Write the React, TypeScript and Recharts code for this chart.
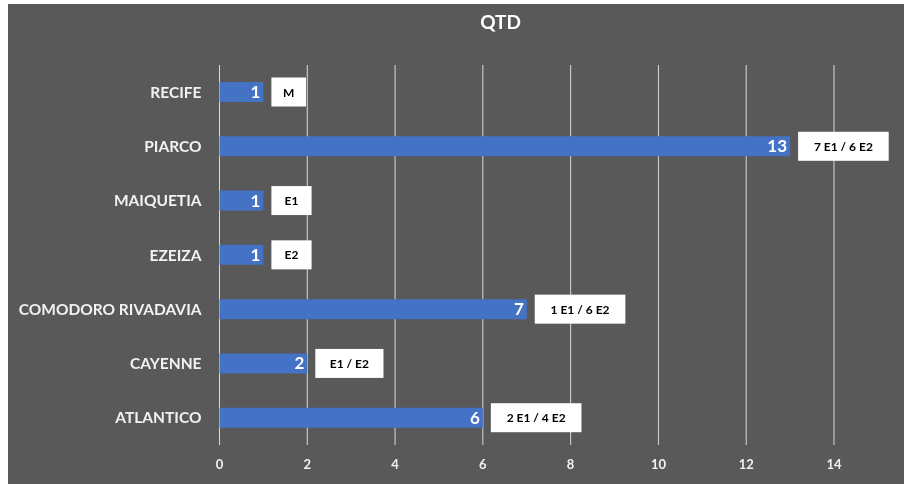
import { Bar, BarChart, CartesianGrid, LabelList, XAxis, YAxis } from "recharts";

const categories = [
  "RECIFE",
  "PIARCO",
  "MAIQUETIA",
  "EZEIZA",
  "COMODORO RIVADAVIA",
  "CAYENNE",
  "ATLANTICO",
];
const qtd = [1, 13, 1, 1, 7, 2, 6];
const notes = ["M", "7 E1 / 6 E2", "E1", "E2", "1 E1 / 6 E2", "E1 / E2", "2 E1 / 4 E2"];
const xTicks = [0, 2, 4, 6, 8, 10, 12, 14];

const data = categories.map((name, i) => ({ name, qtd: qtd[i], note: notes[i] }));

const FONT = "Lato, 'Open Sans', sans-serif";
const BG = "#595959";

function NoteBox(props: any) {
  const { x, y, width, height, value } = props;
  const text = String(value ?? "");
  const w = 29 + text.length * 5.6;
  const h = 29;
  const bx = Number(x) + Number(width) + 8;
  const cy = Number(y) + Number(height) / 2;
  return (
    <g>
      <rect x={bx} y={cy - h / 2} width={w} height={h} fill="#ffffff" />
      <text
        x={bx + w / 2}
        y={cy}
        textAnchor="middle"
        dominantBaseline="central"
        fill="#000000"
        fontSize={12}
        fontWeight={700}
        fontFamily={FONT}
      >
        {text}
      </text>
    </g>
  );
}

export default function App() {
  return (
    <div style={{ width: 896, height: 480, top: 4, left: 8, background: BG, position: "fixed" }}>
      <div
        style={{
          position: "absolute",
          left: 0,
          top: 6,
          width: 985,
          textAlign: "center",
          color: "#ffffff",
          fontFamily: FONT,
          fontWeight: 700,
          fontSize: 19,
        }}
      >
        QTD
      </div>
      <BarChart
        width={896}
        height={480}
        data={data}
        layout="vertical"
        margin={{ top: 61, right: 70, left: 0, bottom: 9 }}
        barCategoryGap={0}
      >
        <CartesianGrid horizontal={false} stroke="#d9d9d9" strokeWidth={1} />
        <XAxis
          type="number"
          domain={[0, 14]}
          ticks={xTicks}
          axisLine={false}
          tickLine={false}
          tickMargin={9}
          height={30}
          tick={{ fill: "#f2f2f2", fontSize: 13, fontWeight: 700, fontFamily: FONT }}
        />
        <YAxis
          type="category"
          dataKey="name"
          width={211.5}
          axisLine={false}
          tickLine={false}
          tickMargin={12}
          tick={{ fill: "#f2f2f2", fontSize: 15.5, fontWeight: 700, fontFamily: FONT }}
        />
        <Bar dataKey="qtd" fill="#4472c4" barSize={20} isAnimationActive={false}>
          <LabelList
            dataKey="qtd"
            position="insideRight"
            offset={3}
            fill="#ffffff"
            fontSize={17}
            fontWeight={700}
            fontFamily={FONT}
          />
          <LabelList dataKey="note" content={NoteBox} />
        </Bar>
      </BarChart>
    </div>
  );
}
